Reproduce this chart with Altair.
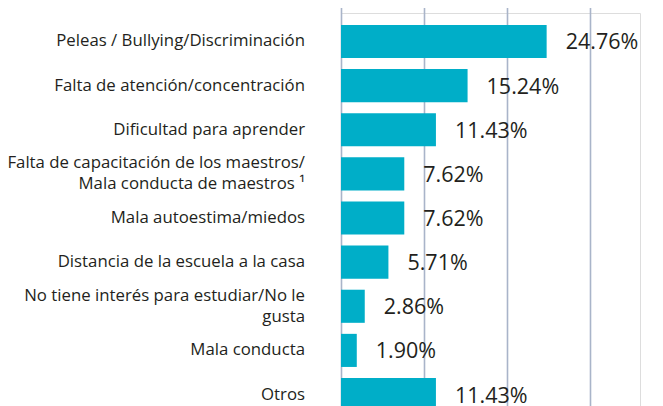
import altair as alt
import pandas as pd

categories = [
    "Peleas / Bullying/Discriminación",
    "Falta de atención/concentración",
    "Dificultad para aprender",
    "Falta de capacitación de los maestros/|Mala conducta de maestros ¹",
    "Mala autoestima/miedos",
    "Distancia de la escuela a la casa",
    "No tiene interés para estudiar/No le|gusta",
    "Mala conducta",
    "Otros",
]
values = [24.76, 15.24, 11.43, 7.62, 7.62, 5.71, 2.86, 1.90, 11.43]
value_labels = ["24.76%", "15.24%", "11.43%", "7.62%", "7.62%", "5.71%", "2.86%", "1.90%", "11.43%"]
grid_ticks = [0, 10, 20, 30]

df = pd.DataFrame({"cat": categories, "val": values, "lab": value_labels})

FONT = "Open Sans"
INK = "#231F20"
LINE_H = 21

y_enc = alt.Y(
    "cat:N",
    sort=categories,
    title=None,
    scale=alt.Scale(range=[0, 410], paddingInner=0.25, paddingOuter=0.27),
    axis=None,
)

x_enc = alt.X(
    "val:Q",
    title=None,
    scale=alt.Scale(domain=[0, 36], nice=False, zero=True),
    axis=alt.Axis(
        values=grid_ticks,
        labels=False,
        ticks=False,
        domain=False,
        grid=True,
        gridColor="#A9B4C9",
        gridWidth=1.6,
    ),
)

bars = alt.Chart(df).mark_bar(color="#00AEC8", clip=False).encode(x=x_enc, y=y_enc)


def cat_layer(multi):
    base = alt.Chart(df).transform_filter(
        "indexof(datum.cat, '|') >= 0" if multi else "indexof(datum.cat, '|') < 0"
    )
    return base.mark_text(
        align="right",
        baseline="middle",
        lineBreak="|",
        lineHeight=LINE_H,
        dy=-LINE_H / 2 if multi else 0,
        font=FONT,
        fontSize=16.8,
        color=INK,
        clip=False,
    ).encode(
        x=alt.value(-36),
        y=alt.Y("cat:N", sort=categories),
        text="cat:N",
    )


val_text = alt.Chart(df).mark_text(
    align="left",
    baseline="middle",
    dx=19,
    dy=2,
    font=FONT,
    fontSize=21.5,
    color=INK,
    clip=False,
).encode(
    x=alt.X("val:Q"),
    y=alt.Y("cat:N", sort=categories),
    text="lab:N",
)

chart = (
    alt.layer(bars, cat_layer(False), cat_layer(True), val_text)
    .properties(
        width=299,
        height=393,
        autosize=alt.AutoSizeParams(type="none"),
        padding={"left": 333, "top": 5, "right": 14, "bottom": 0},
    )
    .configure_view(stroke=None)
    .configure(background="white")
)

chart.save("out.html", embed_options={"renderer": "svg", "actions": False})
